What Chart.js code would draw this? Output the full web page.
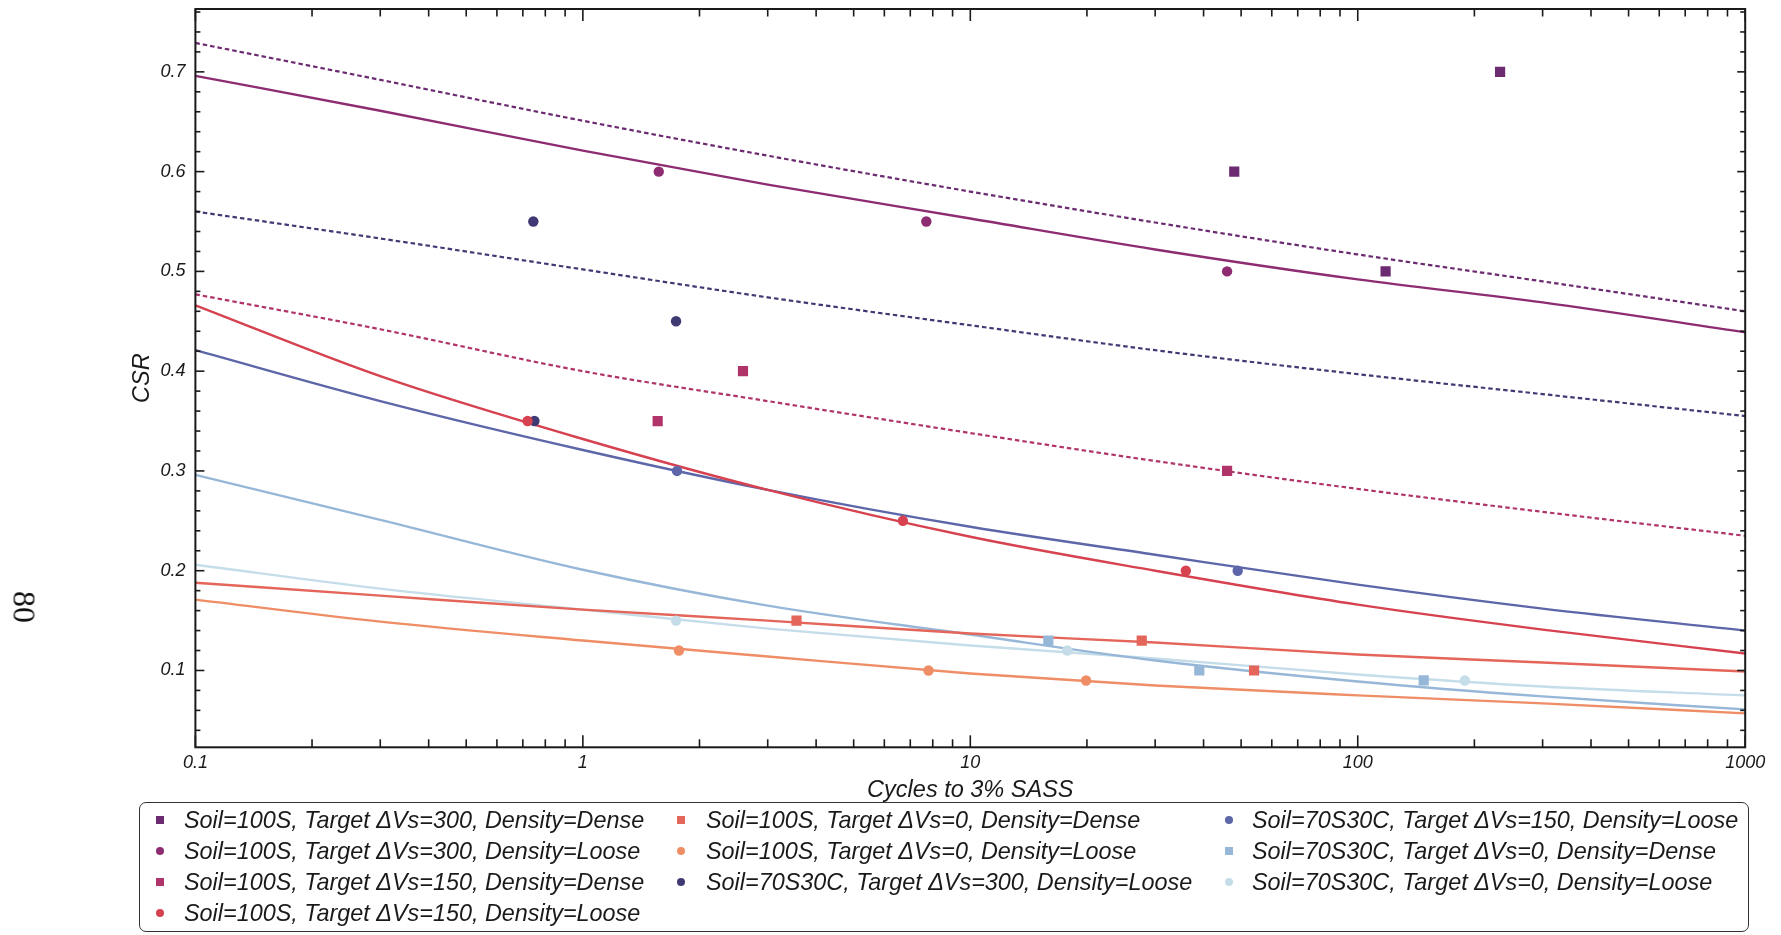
<!DOCTYPE html>
<html>
<head>
<meta charset="utf-8">
<title>CSR vs cycles</title>
<script src="https://cdn.jsdelivr.net/npm/chart.js@4.4.1/dist/chart.umd.min.js"></script>
<style>
  html, body { margin: 0; padding: 0; background: #fff; }
  #wrap { position: relative; width: 1781px; height: 935px; overflow: hidden; }
  #plot { position: absolute; left: 0; top: 0; }
  .page-num {
    position: absolute; left: 24px; top: 607px;
    font-family: 'Liberation Serif', 'Times New Roman', serif; font-size: 32px; color: #111;
    transform: translate(-50%, -50%) rotate(90deg);
  }
  #legend {
    position: absolute; left: 139px; top: 802px; width: 1610px; height: 130px;
    border: 1.5px solid #333; border-radius: 7px; box-sizing: border-box;
  }
  .item {
    position: absolute; height: 30px; display: flex; align-items: center;
    font: italic 23.4px 'Liberation Sans', Arial, sans-serif; color: #1a1a1a; white-space: nowrap;
  }
  .mark { position: absolute; width: 8px; height: 8px; }
</style>
</head>
<body>
<div id="wrap">
  <canvas id="plot" width="1781" height="935"></canvas>
  <div class="page-num">80</div>
  <div id="legend"></div>
</div>
<script>
// series labels, in legend order (column by column)
const seriesLabels = [
  'Soil=100S, Target ΔVs=300, Density=Dense',
  'Soil=100S, Target ΔVs=300, Density=Loose',
  'Soil=100S, Target ΔVs=150, Density=Dense',
  'Soil=100S, Target ΔVs=150, Density=Loose',
  'Soil=100S, Target ΔVs=0, Density=Dense',
  'Soil=100S, Target ΔVs=0, Density=Loose',
  'Soil=70S30C, Target ΔVs=300, Density=Loose',
  'Soil=70S30C, Target ΔVs=150, Density=Loose',
  'Soil=70S30C, Target ΔVs=0, Density=Dense',
  'Soil=70S30C, Target ΔVs=0, Density=Loose',
];
const seriesColors = [
  '#6c2a70', '#8e2c72', '#b0346a', '#d6424f', '#e4665a',
  '#ee8d66', '#3f3a73', '#5c66a9', '#97b7d8', '#c5dde9',
];
const seriesShapes = ['rect', 'circle', 'rect', 'circle', 'rect', 'circle', 'circle', 'circle', 'rect', 'circle'];
const fitDotted = [true, false, true, false, false, false, true, false, false, false];
const legendColumnSizes = [4, 3, 3];

// measured tests: cycles to 3% SASS and CSR
const cycles100S300Dense = [48, 118, 233];
const csr100S300Dense = [0.6, 0.5, 0.7];
const cycles100S300Loose = [1.57, 7.7, 46];
const csr100S300Loose = [0.6, 0.55, 0.5];
const cycles100S150Dense = [1.56, 2.59, 46];
const csr100S150Dense = [0.35, 0.4, 0.3];
const cycles100S150Loose = [0.72, 6.7, 36];
const csr100S150Loose = [0.35, 0.25, 0.2];
const cycles100S0Dense = [3.56, 27.7, 54];
const csr100S0Dense = [0.15, 0.13, 0.1];
const cycles100S0Loose = [1.77, 7.8, 19.9];
const csr100S0Loose = [0.12, 0.1, 0.09];
const cycles70S30C300Loose = [0.745, 1.74, 0.75];
const csr70S30C300Loose = [0.55, 0.45, 0.35];
const cycles70S30C150Loose = [1.75, 49];
const csr70S30C150Loose = [0.3, 0.2];
const cycles70S30C0Dense = [15.9, 39, 148];
const csr70S30C0Dense = [0.13, 0.1, 0.09];
const cycles70S30C0Loose = [1.74, 17.8, 189];
const csr70S30C0Loose = [0.15, 0.12, 0.09];

// fitted curves, CSR read at these cycle counts
const fitCycles = [0.1, 0.3, 1, 3, 10, 30, 100, 300, 1000];
const fit100S300Dense = [0.729, 0.692, 0.651, 0.616, 0.580, 0.549, 0.517, 0.490, 0.460];
const fit100S300Loose = [0.696, 0.661, 0.621, 0.587, 0.553, 0.522, 0.492, 0.469, 0.439];
const fit100S150Dense = [0.477, 0.442, 0.400, 0.370, 0.338, 0.310, 0.282, 0.259, 0.235];
const fit100S150Loose = [0.466, 0.395, 0.332, 0.281, 0.234, 0.200, 0.166, 0.141, 0.117];
const fit100S0Dense = [0.188, 0.175, 0.161, 0.150, 0.137, 0.128, 0.116, 0.108, 0.099];
const fit100S0Loose = [0.171, 0.149, 0.130, 0.114, 0.097, 0.085, 0.075, 0.067, 0.057];
const fit70S30C300Loose = [0.560, 0.533, 0.502, 0.474, 0.446, 0.421, 0.397, 0.377, 0.355];
const fit70S30C150Loose = [0.421, 0.370, 0.321, 0.281, 0.244, 0.216, 0.186, 0.162, 0.140];
const fit70S30C0Dense = [0.296, 0.251, 0.201, 0.165, 0.136, 0.110, 0.089, 0.074, 0.061];
const fit70S30C0Loose = [0.206, 0.182, 0.161, 0.142, 0.125, 0.112, 0.096, 0.084, 0.075];

// axis ticks
const xLabelTicks = [0.1, 1, 10, 100, 1000];
const xMinorTicks = [
  0.2, 0.3, 0.4, 0.5, 0.6, 0.7, 0.8, 0.9,
  2, 3, 4, 5, 6, 7, 8, 9,
  20, 30, 40, 50, 60, 70, 80, 90,
  200, 300, 400, 500, 600, 700, 800, 900,
];
const yLabelTicks = [0.1, 0.2, 0.3, 0.4, 0.5, 0.6, 0.7];
const yMinorTicks = [
  0.04, 0.06, 0.08, 0.12, 0.14, 0.16, 0.18, 0.22, 0.24, 0.26, 0.28,
  0.32, 0.34, 0.36, 0.38, 0.42, 0.44, 0.46, 0.48, 0.52, 0.54, 0.56, 0.58,
  0.62, 0.64, 0.66, 0.68, 0.72, 0.74, 0.76,
];

const measuredX = [
  cycles100S300Dense, cycles100S300Loose, cycles100S150Dense, cycles100S150Loose, cycles100S0Dense,
  cycles100S0Loose, cycles70S30C300Loose, cycles70S30C150Loose, cycles70S30C0Dense, cycles70S30C0Loose,
];
const measuredY = [
  csr100S300Dense, csr100S300Loose, csr100S150Dense, csr100S150Loose, csr100S0Dense,
  csr100S0Loose, csr70S30C300Loose, csr70S30C150Loose, csr70S30C0Dense, csr70S30C0Loose,
];
const fitY = [
  fit100S300Dense, fit100S300Loose, fit100S150Dense, fit100S150Loose, fit100S0Dense,
  fit100S0Loose, fit70S30C300Loose, fit70S30C150Loose, fit70S30C0Dense, fit70S30C0Loose,
];

const INK = '#1a1a1a';
const tickFont = { family: "'Liberation Sans', Arial, sans-serif", size: 18, style: 'italic' };
const titleFont = { family: "'Liberation Sans', Arial, sans-serif", size: 23.5, style: 'italic' };

const datasets = [];
seriesLabels.forEach((label, i) => {
  datasets.push({
    type: 'line',
    label: label + ' fit',
    data: fitCycles.map((n, k) => ({ x: n, y: fitY[i][k] })),
    borderColor: seriesColors[i],
    borderWidth: fitDotted[i] ? 2.2 : 2.4,
    borderDash: fitDotted[i] ? [4.5, 3] : [],
    pointRadius: 0,
    cubicInterpolationMode: 'monotone',
    fill: false,
    order: 2,
  });
  datasets.push({
    type: 'scatter',
    label,
    data: measuredX[i].map((n, k) => ({ x: n, y: measuredY[i][k] })),
    backgroundColor: seriesColors[i],
    borderWidth: 0,
    pointStyle: seriesShapes[i],
    pointRadius: seriesShapes[i] === 'rect' ? 7.2 : 5.2,
    order: 1,
  });
});

// Mathematica-style frame: box plus inward ticks on all four sides
const frameTicks = {
  id: 'frameTicks',
  afterDraw(chart) {
    const { ctx, chartArea: a, scales: { x, y } } = chart;
    ctx.save();
    ctx.strokeStyle = INK;
    ctx.lineWidth = 1.6;
    const seg = (x0, y0, x1, y1) => {
      ctx.beginPath(); ctx.moveTo(x0, y0); ctx.lineTo(x1, y1); ctx.stroke();
    };
    xLabelTicks.forEach((v) => {
      const px = x.getPixelForValue(v);
      seg(px, a.bottom, px, a.bottom - 12);
      seg(px, a.top, px, a.top + 12);
    });
    xMinorTicks.forEach((v) => {
      const px = x.getPixelForValue(v);
      seg(px, a.bottom, px, a.bottom - 8);
      seg(px, a.top, px, a.top + 7.5);
    });
    yLabelTicks.forEach((v) => {
      const py = y.getPixelForValue(v);
      seg(a.left, py, a.left + 9, py);
      seg(a.right, py, a.right - 8, py);
    });
    yMinorTicks.forEach((v) => {
      const py = y.getPixelForValue(v);
      seg(a.left, py, a.left + 5, py);
      seg(a.right, py, a.right - 5, py);
    });
    ctx.lineWidth = 2;
    ctx.strokeRect(a.left, a.top, a.right - a.left, a.bottom - a.top);
    ctx.restore();
  },
};

const chart = new Chart(document.getElementById('plot'), {
  data: { datasets },
  options: {
    responsive: false,
    animation: false,
    events: [],
    layout: { padding: { left: 0, top: 9, right: 35.8, bottom: 127.7 } },
    plugins: { legend: { display: false }, tooltip: { enabled: false } },
    scales: {
      x: {
        type: 'logarithmic',
        min: 0.1,
        max: 1000,
        grid: { display: false, drawTicks: false },
        border: { display: false },
        afterBuildTicks: (s) => { s.ticks = xLabelTicks.map((v) => ({ value: v })); },
        afterFit: (s) => { s.height = 60; s.paddingLeft = 0; s.paddingRight = 0; },
        ticks: {
          autoSkip: false, maxRotation: 0, padding: 5, color: INK, font: tickFont,
          callback: (v) => String(v),
        },
        title: {
          display: true, text: 'Cycles to 3% SASS', color: INK, font: titleFont,
          padding: { top: 0, bottom: 3 },
        },
      },
      y: {
        type: 'linear',
        min: 0.023,
        max: 0.763,
        grid: { display: false, drawTicks: false },
        border: { display: false },
        afterBuildTicks: (s) => { s.ticks = yLabelTicks.map((v) => ({ value: v })); },
        afterFit: (s) => { s.width = 195.4; s.paddingTop = 0; s.paddingBottom = 0; },
        ticks: {
          padding: 10, color: INK, font: tickFont,
          callback: (v) => Number(v).toFixed(1),
        },
        title: {
          display: true, text: 'CSR', color: INK, font: titleFont,
          padding: { top: 128, bottom: 0 },
        },
      },
    },
  },
  plugins: [frameTicks],
});

// legend laid out column by column, markers taken from the scatter datasets
const legendEl = document.getElementById('legend');
const colMarkX = [20, 541, 1089];
const colTextX = [44, 566, 1112];
const rowY = [17, 48, 79, 110];
const scatterSets = chart.data.datasets.filter((d) => d.type === 'scatter');
let idx = 0;
legendColumnSizes.forEach((count, col) => {
  for (let row = 0; row < count; row++, idx++) {
    const ds = scatterSets[idx];
    const mark = document.createElement('div');
    mark.className = 'mark';
    mark.style.left = (colMarkX[col] - 4) + 'px';
    mark.style.top = (rowY[row] - 4) + 'px';
    mark.style.background = ds.backgroundColor;
    if (ds.pointStyle === 'circle') mark.style.borderRadius = '50%';
    legendEl.appendChild(mark);
    const item = document.createElement('div');
    item.className = 'item';
    item.style.left = colTextX[col] + 'px';
    item.style.top = (rowY[row] - 15) + 'px';
    item.textContent = ds.label;
    legendEl.appendChild(item);
  }
});
</script>
</body>
</html>
